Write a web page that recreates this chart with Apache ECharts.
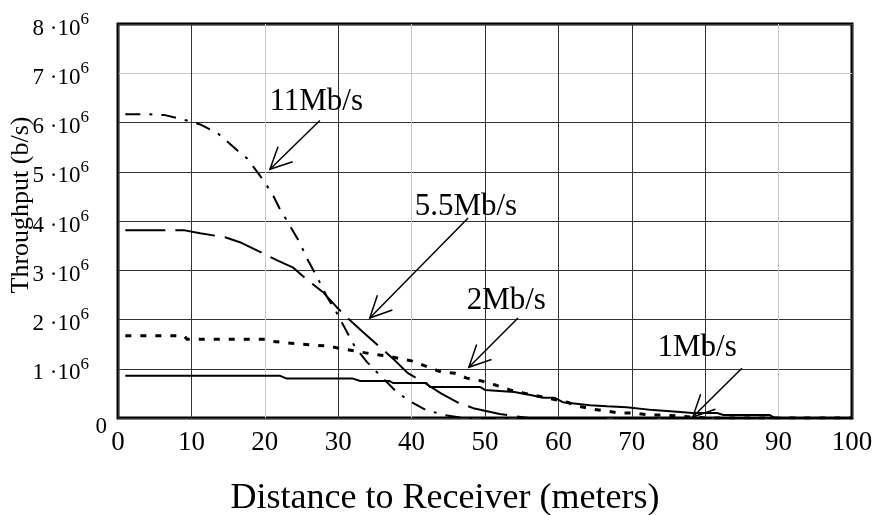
<!DOCTYPE html>
<html>
<head>
<meta charset="utf-8">
<script src="https://cdn.jsdelivr.net/npm/echarts@6/dist/echarts.min.js"></script>
<style>
  html, body { margin: 0; padding: 0; background: #fff; }
  #main { width: 880px; height: 515px; }
</style>
</head>
<body>
<div id="main"></div>
<script>
// distance (m) and throughput (x 1e6 b/s)
var dist11 = [1, 4, 6.4, 9.4, 11.2, 13.6, 16.2, 17.6, 19.3, 21, 22, 23.4, 24.8, 25.7, 27.2, 28.5, 29.6, 31, 32.3, 33.9, 35.8, 37.7, 39.4, 42, 44.5, 47, 60, 80, 100];
var tput11 = [6.17, 6.17, 6.15, 6.04, 5.96, 5.78, 5.44, 5.27, 4.93, 4.56, 4.26, 3.91, 3.55, 3.25, 2.84, 2.45, 2.19, 1.8, 1.44, 1.14, 0.85, 0.57, 0.37, 0.16, 0.06, 0, 0, 0, 0];

var dist55 = [1, 7, 9.1, 11.2, 14.6, 16.6, 19, 21.7, 23.8, 25.8, 27.9, 29.8, 31.5, 33.4, 35.7, 37.5, 39.5, 41.8, 44, 46.2, 48.4, 52, 56, 70, 100];
var tput55 = [3.81, 3.81, 3.81, 3.75, 3.67, 3.57, 3.4, 3.2, 3.06, 2.8, 2.56, 2.25, 2.0, 1.74, 1.44, 1.2, 0.91, 0.71, 0.5, 0.32, 0.2, 0.08, 0, 0, 0];

var dist2 = [1, 9, 9.4, 20, 20.7, 24.8, 28.6, 30.7, 34.6, 36.6, 40, 42, 44.1, 45.9, 47.5, 49.6, 51.4, 53.4, 55.2, 58, 61.2, 62.7, 64.6, 66.6, 68.4, 70.4, 72.5, 74.3, 76.3, 80, 100];
var tput2 = [1.67, 1.67, 1.60, 1.60, 1.56, 1.50, 1.46, 1.40, 1.30, 1.26, 1.16, 1.05, 0.93, 0.91, 0.81, 0.75, 0.67, 0.57, 0.51, 0.42, 0.32, 0.24, 0.18, 0.14, 0.10, 0.10, 0.06, 0.06, 0.04, 0, 0];

var dist1 = [1, 22, 23, 32, 33, 37, 37.5, 42, 42.5, 49.3, 50, 54, 56, 58, 59.5, 60.6, 64.3, 66.6, 69.3, 72.9, 76.6, 78.3, 81.6, 82.5, 88.8, 89.5, 100];
var tput1 = [0.86, 0.86, 0.80, 0.80, 0.75, 0.75, 0.71, 0.71, 0.63, 0.63, 0.57, 0.53, 0.47, 0.41, 0.41, 0.32, 0.26, 0.24, 0.22, 0.16, 0.12, 0.10, 0.10, 0.06, 0.06, 0, 0];

// annotation labels: text centre, arrow start, arrow tip (data coords, y x 1e6)
var noteText = ["11Mb/s", "5.5Mb/s", "2Mb/s", "1Mb/s"];
var noteAt = [[27.0, 6.41], [47.4, 4.28], [52.9, 2.37], [78.9, 1.42]];
var arrowFrom = [[27.5, 6.04], [47.7, 4.06], [54.5, 2.03], [85.0, 1.01]];
var arrowTo = [[20.7, 5.05], [34.3, 2.03], [47.8, 1.03], [78.3, 0.02]];

var serif = "'Liberation Serif', 'Times New Roman', serif";

function pairs(xs, ys) {
  return xs.map(function (x, i) { return [x, ys[i] * 1e6]; });
}

var chart = echarts.init(document.getElementById("main"));
var dark = "#333", light = "#c8c8c8";

var option = {
  animation: false,
  backgroundColor: "#fff",
  grid: { left: 118, right: 28, top: 24, bottom: 97, outerBoundsMode: "none", containLabel: false,
    show: true, borderColor: "#000", borderWidth: 3, backgroundColor: "transparent" },
  xAxis: {
    type: "value", min: 0, max: 100, interval: 10,
    axisLine: { show: false }, axisTick: { show: false },
    splitLine: { show: true, lineStyle: { width: 1, color: [dark, dark, light, dark, light, dark, dark, dark, dark, light, dark] } },
    axisLabel: { color: "#000", fontFamily: serif, fontSize: 27, margin: 11 },
    name: "Distance to Receiver (meters)",
    nameLocation: "middle", nameGap: 63, nameMoveOverlap: false,
    nameTextStyle: { color: "#000", fontFamily: serif, fontSize: 36, padding: [0, 80, 0, 0] }
  },
  yAxis: {
    type: "value", min: 0, max: 8e6, interval: 1e6,
    axisLine: { show: false }, axisTick: { show: false },
    splitLine: { show: true, lineStyle: { width: 1, color: [dark, dark, dark, dark, dark, dark, dark, light, dark] } },
    axisLabel: {
      color: "#000", fontFamily: serif, fontSize: 23, margin: 11,
      formatter: function (v) {
        if (v === 0) return "{z|0}";
        return "{a|" + (v / 1e6) + " \u00b710}{s|6}";
      },
      rich: {
        z: { fontSize: 23, fontFamily: serif, color: "#000", padding: [18, 0, 0, 0] },
        a: { fontSize: 23, fontFamily: serif, color: "#000", lineHeight: 26, padding: [9, 0, 0, 0] },
        s: { fontSize: 17, fontFamily: serif, color: "#000", lineHeight: 17, verticalAlign: "top", padding: [0, 18, 0, 0] }
      }
    },
    name: "Throughput (b/s)",
    nameLocation: "middle", nameGap: 84, nameMoveOverlap: false,
    nameTextStyle: { color: "#000", fontFamily: serif, fontSize: 26, padding: [0, 0, 0, 32] }
  },
  series: [
    { name: "11Mb/s", type: "line", data: pairs(dist11, tput11), showSymbol: false, silent: true,
      lineStyle: { color: "#000", width: 2, type: [15, 9, 3, 9] } },
    { name: "5.5Mb/s", type: "line", data: pairs(dist55, tput55), showSymbol: false, silent: true,
      lineStyle: { color: "#000", width: 2, type: [40, 10] } },
    { name: "2Mb/s", type: "line", data: pairs(dist2, tput2), showSymbol: false, silent: true,
      lineStyle: { color: "#000", width: 3, type: [6, 9] } },
    { name: "1Mb/s", type: "line", data: pairs(dist1, tput1), showSymbol: false, silent: true,
      lineStyle: { color: "#000", width: 2 } }
  ]
};
chart.setOption(option);

// labels and open arrows placed through the grid's own coordinate system
function px(p) { return chart.convertToPixel({ gridIndex: 0 }, [p[0], p[1] * 1e6]); }
var graphics = [];
noteText.forEach(function (t, i) {
  var c = px(noteAt[i]), a = px(arrowFrom[i]), b = px(arrowTo[i]);
  graphics.push({ type: "text", silent: true, style: { text: t, x: c[0], y: c[1], align: "center", verticalAlign: "middle", fill: "#000", font: "31px " + serif } });
  graphics.push({ type: "polyline", silent: true, shape: { points: [a, b] }, style: { stroke: "#000", lineWidth: 1.5, fill: null } });
  var ang = Math.atan2(a[1] - b[1], a[0] - b[0]), len = 24, spread = 26 * Math.PI / 180;
  var p1 = [b[0] + len * Math.cos(ang - spread), b[1] + len * Math.sin(ang - spread)];
  var p2 = [b[0] + len * Math.cos(ang + spread), b[1] + len * Math.sin(ang + spread)];
  graphics.push({ type: "polyline", silent: true, shape: { points: [p1, b, p2] }, style: { stroke: "#000", lineWidth: 1.5, fill: null } });
});
chart.setOption({ graphic: graphics });
</script>
</body>
</html>
